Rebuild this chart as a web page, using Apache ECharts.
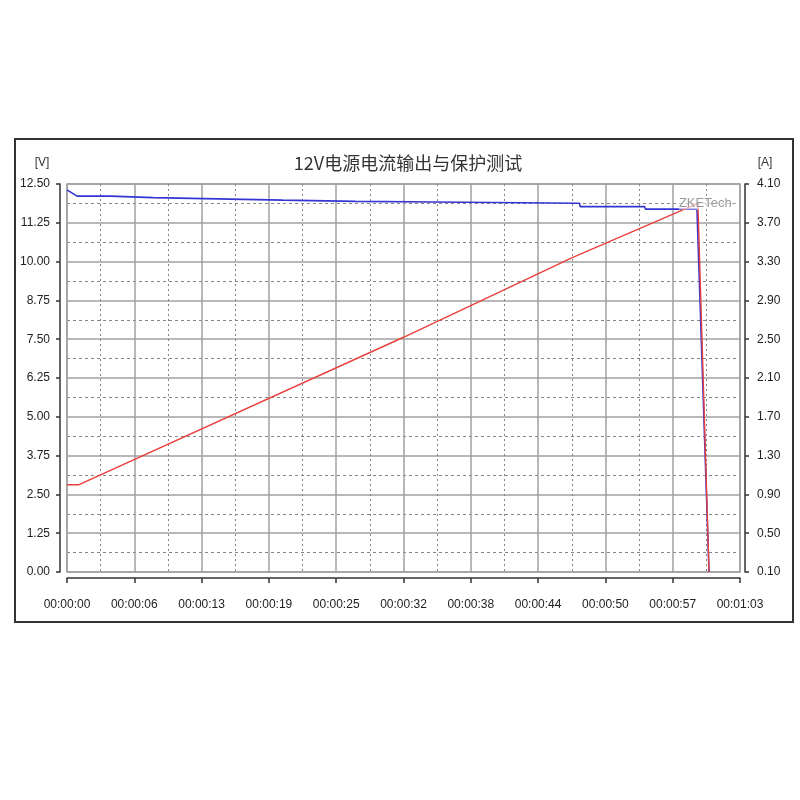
<!DOCTYPE html>
<html>
<head>
<meta charset="utf-8">
<script src="https://cdn.jsdelivr.net/npm/echarts@6/dist/echarts.min.js"></script>
<style>
html,body{margin:0;padding:0;background:#fff;}
#chart{width:800px;height:800px;}
</style>
</head>
<body>
<div id="chart"></div>
<script>
// ---- data ----
var titleText = '12V电源电流输出与保护测试';
var xTickLabels = ['00:00:00','00:00:06','00:00:13','00:00:19','00:00:25','00:00:32','00:00:38','00:00:44','00:00:50','00:00:57','00:01:03'];
var leftTickLabels = ['0.00','1.25','2.50','3.75','5.00','6.25','7.50','8.75','10.00','11.25','12.50'];
var rightTickLabels = ['0.10','0.50','0.90','1.30','1.70','2.10','2.50','2.90','3.30','3.70','4.10'];

// time in seconds
var voltageTime = [0, 0.94, 4.04, 4.10, 8.08, 8.14, 14.08, 14.14, 20.19, 20.25, 27.0, 27.06, 34.5, 34.56, 47.98, 48.04, 54.08, 54.14, 58.97, 59.06, 60.10];
var voltageVals = [12.31, 12.11, 12.11, 12.06, 12.06, 12.02, 12.02, 11.98, 11.98, 11.94, 11.94, 11.92, 11.92, 11.88, 11.88, 11.77, 11.77, 11.69, 11.69, 11.66, 0.00];

var currentTime = [0, 1.13, 31.5, 47.3, 59.06, 60.10];
var currentVals = [1.00, 1.00, 2.52, 3.34, 3.90, 0.10];

function pairs(t, v) { return t.map(function (x, i) { return [x, v[i]]; }); }

var chart = echarts.init(document.getElementById('chart'), null, {renderer: 'canvas'});
var labelFont = '"Liberation Sans", Arial, sans-serif';
var majorLine = {show: true, lineStyle: {color: '#a0a0a0', width: 1.5, type: 'solid'}};
var minorLine = {show: true, lineStyle: {color: '#858585', width: 1, type: [3, 3]}};

chart.setOption({
  animation: false,
  backgroundColor: '#ffffff',
  title: {
    text: titleText,
    left: 403, top: 149, textAlign: 'center',
    textStyle: {fontFamily: '"Noto Sans CJK SC", sans-serif', fontSize: 18, fontWeight: 'normal', color: '#333'}
  },
  grid: {left: 67, right: 60, top: 184, bottom: 228, show: true, borderColor: '#a0a0a0', borderWidth: 1.5, containLabel: false},
  xAxis: {
    type: 'value', min: 0, max: 63, interval: 6.3,
    offset: 6,
    axisLine: {show: true, onZero: false, lineStyle: {color: '#333', width: 1.5}},
    axisTick: {show: true, inside: false, length: 5, lineStyle: {color: '#333', width: 1.5}},
    axisLabel: {
      margin: 21, color: '#222', fontSize: 12, fontFamily: labelFont,
      formatter: function (v) { return xTickLabels[Math.round(v / 6.3)] || ''; }
    },
    splitLine: majorLine,
    minorTick: {show: false, splitNumber: 2},
    minorSplitLine: {show: true, lineStyle: {color: '#858585', width: 1, type: [2, 3]}}
  },
  yAxis: [{
    type: 'value', min: 0, max: 12.5, interval: 1.25,
    position: 'left', offset: 7,
    axisLine: {show: true, onZero: false, lineStyle: {color: '#333', width: 1.5}},
    axisTick: {show: true, inside: false, length: 4, lineStyle: {color: '#333', width: 1.5}},
    axisLabel: {
      margin: 10, color: '#222', fontSize: 12, fontFamily: labelFont,
      formatter: function (v) { return leftTickLabels[Math.round(v / 1.25)] || ''; }
    },
    splitLine: majorLine,
    minorTick: {show: false, splitNumber: 2},
    minorSplitLine: minorLine
  }, {
    type: 'value', min: 0.1, max: 4.1, interval: 0.4,
    position: 'right', offset: 5,
    axisLine: {show: true, onZero: false, lineStyle: {color: '#333', width: 1.5}},
    axisTick: {show: true, inside: false, length: 4, lineStyle: {color: '#333', width: 1.5}},
    axisLabel: {
      margin: 12, color: '#222', fontSize: 12, fontFamily: labelFont,
      formatter: function (v) { return rightTickLabels[Math.round((v - 0.1) / 0.4)] || ''; }
    },
    splitLine: {show: false}
  }],
  graphic: [
    {type: 'rect', shape: {x: 15, y: 139, width: 778, height: 483}, style: {fill: null, stroke: '#333', lineWidth: 2}, silent: true},
    {type: 'text', x: 42, y: 163, style: {text: '[V]', fill: '#333', font: '12px ' + labelFont, textAlign: 'center', textVerticalAlign: 'middle'}},
    {type: 'text', x: 765, y: 163, style: {text: '[A]', fill: '#333', font: '12px ' + labelFont, textAlign: 'center', textVerticalAlign: 'middle'}},
    {type: 'text', x: 736, y: 203, z: 10, style: {text: 'ZKETech-', fill: '#9a9a9a', font: '13px ' + labelFont, textAlign: 'right', textVerticalAlign: 'middle', backgroundColor: 'rgba(255,255,255,0.6)'}}
  ],
  series: [{
    name: 'Voltage', type: 'line', yAxisIndex: 0,
    data: pairs(voltageTime, voltageVals),
    showSymbol: false, symbol: 'none',
    lineStyle: {color: '#3535d5', width: 1.6},
    z: 3
  }, {
    name: 'Current', type: 'line', yAxisIndex: 1,
    data: pairs(currentTime, currentVals),
    showSymbol: false, symbol: 'none',
    lineStyle: {color: '#e8403c', width: 1.4},
    z: 4
  }]
});
</script>
</body>
</html>
